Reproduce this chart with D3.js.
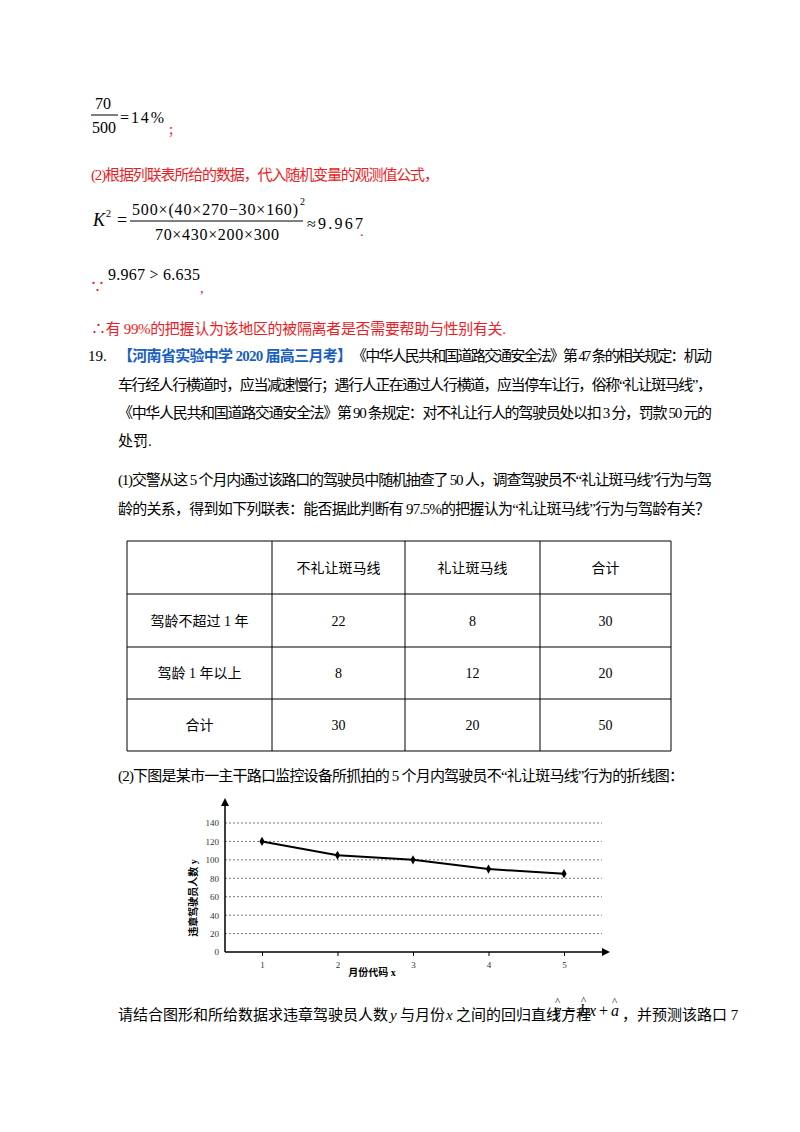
<!DOCTYPE html>
<html lang="zh">
<head>
<meta charset="UTF-8">
<title>违章驾驶员人数折线图</title>
<script src="https://cdn.jsdelivr.net/npm/d3@7"></script>
<style>
  body { margin: 0; background: #fff; }
  text { font-family: "Liberation Serif", "Noto Sans CJK SC", serif; }
</style>
</head>
<body>
<svg width="800" height="1132"></svg>
<script>
// 数据
const months = [1, 2, 3, 4, 5]
const drivers = [120, 105, 100, 90, 85]
const yTicks = [0, 20, 40, 60, 80, 100, 120, 140]
const tableHead = ['', '不礼让斑马线', '礼让斑马线', '合计']
const tableRows = [
  ['驾龄不超过 1 年', '22', '8', '30'],
  ['驾龄 1 年以上', '8', '12', '20'],
  ['合计', '30', '20', '50']
]

const svg = d3.select('svg')
const red = '#ee1c25'
const fs = 15

function txt(x, y, s, opt = {}) {
  const t = svg.append('text').attr('x', x).attr('y', y).text(s)
    .attr('font-size', opt.size || fs).attr('fill', opt.fill || '#000')
    .attr('text-anchor', opt.anchor || 'start')
    .attr('font-style', opt.italic ? 'italic' : null)
    .attr('font-weight', opt.bold ? 'bold' : null)
  if (opt.len) t.attr('textLength', opt.len).attr('lengthAdjust', 'spacing')
  return t
}

// 公式部分
txt(103, 109, '70', { size: 16, anchor: 'middle' })
svg.append('line').attr('x1', 91).attr('x2', 118).attr('y1', 115).attr('y2', 115).attr('stroke', '#000')
txt(104, 133, '500', { size: 16, anchor: 'middle' })
txt(120, 123, '=14%', { size: 16, len: 44 })
txt(168, 135, '；', { fill: red, size: 12 })

txt(91, 180, '(2)根据列联表所给的数据，代入随机变量的观测值公式，', { fill: red, len: 348 })
txt(93, 226, 'K', { size: 18, italic: true })
txt(106, 217, '2', { size: 10 })
txt(117, 226, '=', { size: 18 })
txt(132, 215, '500×(40×270−30×160)', { size: 16, len: 166 })
txt(300, 205, '2', { size: 10 })
svg.append('line').attr('x1', 130).attr('x2', 303).attr('y1', 221).attr('y2', 221).attr('stroke', '#000')
txt(155, 240, '70×430×200×300', { size: 16, len: 124 })
txt(307, 229, '≈9.967', { size: 16, len: 56 })
txt(360, 236, '.', { fill: red })

txt(90, 292, '∵', { fill: red })
txt(108, 280, '9.967 > 6.635', { size: 16, len: 92 })
txt(200, 293, ',', { fill: red })

txt(91, 334, '∴有 99%的把握认为该地区的被隔离者是否需要帮助与性别有关.', { fill: red, len: 415 })

// 题目 19
txt(88, 361, '19.', { size: 15 })
txt(118, 361, '【河南省实验中学 2020 届高三月考】', { fill: '#1a5fbf', bold: true, len: 234 })
txt(352, 361, '《中华人民共和国道路交通安全法》第 47 条的相关规定：机动', { len: 360 })
txt(118, 390, '车行经人行横道时，应当减速慢行；遇行人正在通过人行横道，应当停车让行，俗称“礼让斑马线”，', { len: 594 })
txt(118, 418, '《中华人民共和国道路交通安全法》第 90 条规定：对不礼让行人的驾驶员处以扣 3 分，罚款 50 元的', { len: 594 })
txt(118, 446, '处罚.')
txt(118, 485, '(1)交警从这 5 个月内通过该路口的驾驶员中随机抽查了 50 人，调查驾驶员不“礼让斑马线”行为与驾', { len: 594 })
txt(118, 514, '龄的关系，得到如下列联表：能否据此判断有 97.5%的把握认为“礼让斑马线”行为与驾龄有关？', { len: 592 })

// 列联表
const colX = [127, 272, 405, 540, 671]
const rowY = [541, 594, 647, 699, 751]
const tg = svg.append('g').attr('stroke', '#000').attr('stroke-width', 1)
colX.forEach(x => tg.append('line').attr('x1', x).attr('x2', x).attr('y1', rowY[0]).attr('y2', rowY[4]))
rowY.forEach(y => tg.append('line').attr('x1', colX[0]).attr('x2', colX[4]).attr('y1', y).attr('y2', y))
const allRows = [tableHead].concat(tableRows)
allRows.forEach((r, i) => r.forEach((c, j) => {
  txt((colX[j] + colX[j + 1]) / 2, (rowY[i] + rowY[i + 1]) / 2 + 5, c, { anchor: 'middle', size: 14 })
}))

txt(118, 781, '(2)下图是某市一主干路口监控设备所抓拍的 5 个月内驾驶员不“礼让斑马线”行为的折线图：', { len: 566 })

// 折线图
const x0 = 225, y0 = 952
const x = d3.scaleLinear().domain([1, 5]).range([262, 564])
const y = d3.scaleLinear().domain([0, 140]).range([y0, 823])
const chart = svg.append('g')

chart.selectAll('.grid').data(yTicks.slice(1)).enter().append('line')
  .attr('x1', x0).attr('x2', 602).attr('y1', d => y(d)).attr('y2', d => y(d))
  .attr('stroke', '#555').attr('stroke-dasharray', '2,2').attr('stroke-width', 0.8)

const yAxis = chart.append('g').attr('transform', `translate(${x0},0)`)
  .call(d3.axisLeft(y).tickValues(yTicks).tickSize(0).tickPadding(6))
yAxis.select('.domain').remove()
yAxis.selectAll('text').attr('font-family', 'Liberation Sans, Arial').attr('font-size', 9).attr('fill', '#333')

const xAxis = chart.append('g').attr('transform', `translate(0,${y0})`)
  .call(d3.axisBottom(x).tickValues(months).tickFormat(d3.format('d')).tickSize(4).tickPadding(6))
xAxis.select('.domain').remove()
xAxis.selectAll('text').attr('font-family', 'Liberation Sans, Arial').attr('font-size', 9).attr('fill', '#333')

// 坐标轴与箭头
chart.append('line').attr('x1', x0).attr('x2', x0).attr('y1', y0).attr('y2', 803).attr('stroke', '#000').attr('stroke-width', 1.5)
chart.append('path').attr('d', `M${x0 - 4},806 L${x0},798 L${x0 + 4},806 Z`).attr('fill', '#000')
chart.append('line').attr('x1', x0).attr('x2', 604).attr('y1', y0).attr('y2', y0).attr('stroke', '#000').attr('stroke-width', 1.5)
chart.append('path').attr('d', `M602,${y0 - 4} L610,${y0} L602,${y0 + 4} Z`).attr('fill', '#000')

const pts = months.map((m, i) => [m, drivers[i]])
chart.append('path').datum(pts)
  .attr('d', d3.line().x(d => x(d[0])).y(d => y(d[1])))
  .attr('fill', 'none').attr('stroke', '#000').attr('stroke-width', 2)
chart.selectAll('.pt').data(pts).enter().append('path')
  .attr('transform', d => `translate(${x(d[0])},${y(d[1])})`)
  .attr('d', d3.symbol(d3.symbolDiamond, 24))
  .attr('fill', '#000')

txt(372, 976, '月份代码 x', { size: 10, bold: true, anchor: 'middle' }).attr('font-family', 'Noto Sans CJK SC')
txt(0, 0, '违章驾驶员人数 y', { size: 10, bold: true, anchor: 'middle' })
  .attr('font-family', 'Noto Sans CJK SC')
  .attr('transform', 'translate(197,898) rotate(-90)')

// 最后一行
txt(118, 1020, '请结合图形和所给数据求违章驾驶员人数')
txt(390, 1020, 'y', { italic: true })
txt(400, 1020, '与月份')
txt(446, 1020, 'x', { italic: true })
txt(456, 1020, '之间的回归直线方程')
// 回归方程 ŷ = b̂x + â
txt(554, 1016, 'y', { size: 16, italic: true })
txt(555, 1005, '^', { size: 11 })
txt(566, 1016, '=', { size: 16 })
txt(580, 1016, 'b', { size: 16, italic: true })
txt(581, 1004, '^', { size: 11 })
txt(589, 1016, 'x', { size: 16, italic: true })
txt(599, 1016, '+', { size: 16 })
txt(611, 1016, 'a', { size: 16, italic: true })
txt(612, 1005, '^', { size: 11 })
txt(622, 1020, '，并预测该路口 7')
</script>
</body>
</html>
